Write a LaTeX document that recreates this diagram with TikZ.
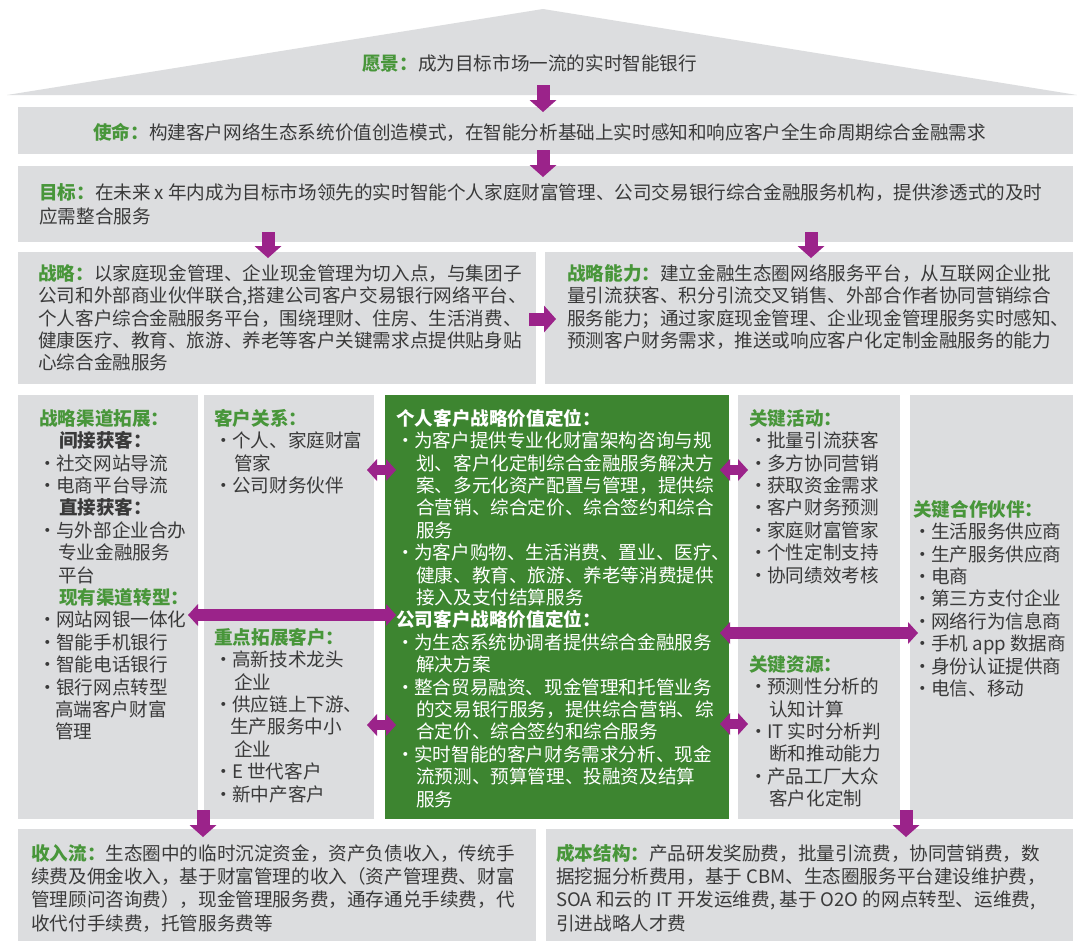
\documentclass[tikz,border=0pt]{standalone}
\usepackage{fontspec}
\setmainfont{Noto Sans CJK SC}
\usetikzlibrary{arrows.meta}
\definecolor{panel}{RGB}{220,221,223}
\definecolor{pur}{RGB}{155,35,138}
\definecolor{tgreen}{RGB}{72,150,58}
\definecolor{vgreen}{RGB}{61,133,48}
\definecolor{txt}{RGB}{58,58,58}
\newcommand\gtitle[1]{{\bfseries\color{tgreen}#1}}
\newcommand\btitle[1]{{\bfseries #1}}
\newcommand\bu{\makebox[10pt][l]{\hspace{2pt}\makebox[0pt][c]{·}}}
\newcommand\fs{\rule{0pt}{17pt}}
\newcommand\bodyfont{\fontsize{18.6}{22.4}\selectfont}
\begin{document}
\begin{tikzpicture}[x=1pt,y=-1pt,
  panelbox/.style={fill=panel, draw=none, inner sep=0pt, outer sep=0pt, rectangle},
  vpbox/.style={fill=vgreen, draw=none, inner sep=0pt, outer sep=0pt, rectangle},
  txtblock/.style={anchor=north west, inner sep=0pt, align=left, text=txt, font=\bodyfont},
  downarr/.style={draw=pur, line width=13pt, -{Triangle[width=27pt,length=12pt,line width=0pt]}},
  longarr/.style={draw=pur, line width=12pt, {Triangle[width=22pt,length=10pt,line width=0pt]}-{Triangle[width=22pt,length=10pt,line width=0pt]}},
  shortarr/.style={draw=pur, line width=10pt, {Triangle[width=22pt,length=10pt,line width=0pt]}-{Triangle[width=22pt,length=10pt,line width=0pt]}}
]
\useasboundingbox (0,0) rectangle (1077,943);
\fill[white] (0,0) rectangle (1077,943);
% roof
\fill[panel] (7,95) -- (543,9) -- (1077,95) -- cycle;
% boxes
\node[panelbox, minimum width=1055pt, minimum height=47pt] (mission) at (545.5,130.5) {};
\node[panelbox, minimum width=1055pt, minimum height=76pt] (goal) at (545.5,204) {};
\node[panelbox, minimum width=518pt, minimum height=132pt] (strat) at (277,318) {};
\node[panelbox, minimum width=528pt, minimum height=132pt] (cap) at (809,318) {};
\node[panelbox, minimum width=180pt, minimum height=424pt] (chan) at (108,607) {};
\node[panelbox, minimum width=170pt, minimum height=424pt] (cr) at (289,607) {};
\node[vpbox, minimum width=344pt, minimum height=424pt] (vp) at (557,607) {};
\node[panelbox, minimum width=162pt, minimum height=424pt] (ka) at (819,607) {};
\node[panelbox, minimum width=163pt, minimum height=424pt] (kp) at (991.5,607) {};
\node[panelbox, minimum width=518pt, minimum height=112pt] (rev) at (277,885) {};
\node[panelbox, minimum width=527pt, minimum height=112pt] (cost) at (809.5,885) {};
% texts
\node[txtblock] (visiontxt) at (362,53) {\fs\gtitle{愿景：}成为目标市场一流的实时智能银行};
\node[txtblock] (missiontxt) at (93,122) {\fs\gtitle{使命：}构建客户网络生态系统价值创造模式，在智能分析基础上实时感知和响应客户全生命周期综合金融需求};
\node[txtblock, font={\fontsize{18.6}{24}\selectfont}] (goaltxt) at (39,182) {\fs\gtitle{目标：}在未来 x 年内成为目标市场领先的实时智能个人家庭财富管理、公司交易银行综合金融服务机构，提供渗透式的及时\\应需整合服务};
\node[txtblock] (strattxt) at (38,263) {\fs\gtitle{战略：}以家庭现金管理、企业现金管理为切入点，与集团子\\
公司和外部商业伙伴联合,搭建公司客户交易银行网络平台、\\
个人客户综合金融服务平台，围绕理财、住房、生活消费、\\
健康医疗、教育、旅游、养老等客户关键需求点提供贴身贴\\
心综合金融服务};
\node[txtblock] (captxt) at (567,263) {\fs\gtitle{战略能力：}建立金融生态圈网络服务平台，从互联网企业批\\
量引流获客、积分引流交叉销售、外部合作者协同营销综合\\
服务能力；通过家庭现金管理、企业现金管理服务实时感知、\\
预测客户财务需求，推送或响应客户化定制金融服务的能力};
\node[txtblock] (chantxt) at (39,408) {\fs\gtitle{战略渠道拓展：}\\
\hspace*{20pt}\btitle{间接获客：}\\
\hspace*{7pt}\bu 社交网站导流\\
\hspace*{7pt}\bu 电商平台导流\\
\hspace*{20pt}\btitle{直接获客：}\\
\hspace*{7pt}\bu 与外部企业合办\\
\hspace*{19pt}专业金融服务\\
\hspace*{19pt}平台\\
\hspace*{20pt}\gtitle{现有渠道转型：}\\
\hspace*{7pt}\bu 网站网银一体化\\
\hspace*{7pt}\bu 智能手机银行\\
\hspace*{7pt}\bu 智能电话银行\\
\hspace*{7pt}\bu 银行网点转型\\
\hspace*{16pt}高端客户财富\\
\hspace*{16pt}管理};
\node[txtblock] (crtxt) at (214,408) {\fs\gtitle{客户关系：}\\
\hspace*{8pt}\bu 个人、家庭财富\\
\hspace*{20pt}管家\\
\hspace*{8pt}\bu 公司财务伙伴};
\node[txtblock] (keycusttxt) at (214,627) {\fs\gtitle{重点拓展客户：}\\
\hspace*{8pt}\bu 高新技术龙头\\
\hspace*{20pt}企业\\
\hspace*{8pt}\bu 供应链上下游、\\
\hspace*{16pt}生产服务中小\\
\hspace*{20pt}企业\\
\hspace*{8pt}\bu E 世代客户\\
\hspace*{8pt}\bu 新中产客户};
\node[txtblock, text=white] (vptxt) at (396,408) {\fs\btitle{个人客户战略价值定位：}\\
\hspace*{8pt}\bu 为客户提供专业化财富架构咨询与规\\
\hspace*{20pt}划、客户化定制综合金融服务解决方\\
\hspace*{20pt}案、多元化资产配置与管理，提供综\\
\hspace*{20pt}合营销、综合定价、综合签约和综合\\
\hspace*{20pt}服务\\
\hspace*{8pt}\bu 为客户购物、生活消费、置业、医疗、\\
\hspace*{20pt}健康、教育、旅游、养老等消费提供\\
\hspace*{20pt}接入及支付结算服务\\
\btitle{公司客户战略价值定位：}\\
\hspace*{8pt}\bu 为生态系统协调者提供综合金融服务\\
\hspace*{20pt}解决方案\\
\hspace*{8pt}\bu 整合贸易融资、现金管理和托管业务\\
\hspace*{20pt}的交易银行服务，提供综合营销、综\\
\hspace*{20pt}合定价、综合签约和综合服务\\
\hspace*{8pt}\bu 实时智能的客户财务需求分析、现金\\
\hspace*{20pt}流预测、预算管理、投融资及结算\\
\hspace*{20pt}服务};
\node[txtblock] (katxt) at (749,408) {\fs\gtitle{关键活动：}\\
\hspace*{8pt}\bu 批量引流获客\\
\hspace*{8pt}\bu 多方协同营销\\
\hspace*{8pt}\bu 获取资金需求\\
\hspace*{8pt}\bu 客户财务预测\\
\hspace*{8pt}\bu 家庭财富管家\\
\hspace*{8pt}\bu 个性定制支持\\
\hspace*{8pt}\bu 协同绩效考核};
\node[txtblock] (krtxt) at (749,654) {\fs\gtitle{关键资源：}\\
\hspace*{8pt}\bu 预测性分析的\\
\hspace*{20pt}认知计算\\
\hspace*{8pt}\bu IT 实时分析判\\
\hspace*{20pt}断和推动能力\\
\hspace*{8pt}\bu 产品工厂大众\\
\hspace*{20pt}客户化定制};
\node[txtblock] (kptxt) at (913,499) {\fs\gtitle{关键合作伙伴：}\\
\hspace*{8pt}\bu 生活服务供应商\\
\hspace*{8pt}\bu 生产服务供应商\\
\hspace*{8pt}\bu 电商\\
\hspace*{8pt}\bu 第三方支付企业\\
\hspace*{8pt}\bu 网络行为信息商\\
\hspace*{8pt}\bu 手机 app 数据商\\
\hspace*{8pt}\bu 身份认证提供商\\
\hspace*{8pt}\bu 电信、移动};
\node[txtblock, font={\fontsize{18.6}{23.3}\selectfont}] (revtxt) at (31,843) {\fs\gtitle{收入流：}生态圈中的临时沉淀资金，资产负债收入，传统手\\
续费及佣金收入，基于财富管理的收入（资产管理费、财富\\
管理顾问咨询费），现金管理服务费，通存通兑手续费，代\\
收代付手续费，托管服务费等};
\node[txtblock, font={\fontsize{18.6}{23.3}\selectfont}] (costtxt) at (556,843) {\fs\gtitle{成本结构：}产品研发奖励费，批量引流费，协同营销费，数\\
据挖掘分析费用，基于 CBM、生态圈服务平台建设维护费，\\
SOA 和云的 IT 开发运维费, 基于 O2O 的网点转型、运维费,\\
引进战略人才费};
% arrow end points
\coordinate (a1s) at (543,85);  \coordinate (a1e) at (543,112);
\coordinate (a2s) at (543,150); \coordinate (a2e) at (543,177);
\coordinate (a3s) at (268,232); \coordinate (a3e) at (268,258);
\coordinate (a4s) at (811,232); \coordinate (a4e) at (811,258);
\coordinate (a5s) at (529,319); \coordinate (a5e) at (556,319);
\coordinate (b1l) at (367,470); \coordinate (b1r) at (396,470);
\coordinate (b2l) at (188,615); \coordinate (b2r) at (396,615);
\coordinate (b3l) at (367,725); \coordinate (b3r) at (396,725);
\coordinate (c1l) at (720,470); \coordinate (c1r) at (748,470);
\coordinate (c2l) at (720,633); \coordinate (c2r) at (918,633);
\coordinate (c3l) at (720,724); \coordinate (c3r) at (748,724);
\coordinate (d1s) at (203,810); \coordinate (d1e) at (203,837);
\coordinate (d2s) at (906,810); \coordinate (d2e) at (906,837);
% arrows
\draw[downarr] (a1s) -- (a1e);
\draw[downarr] (a2s) -- (a2e);
\draw[downarr] (a3s) -- (a3e);
\draw[downarr] (a4s) -- (a4e);
\draw[downarr] (a5s) -- (a5e);
\draw[shortarr] (b1l) -- (b1r);
\draw[longarr] (b2l) -- (b2r);
\draw[shortarr] (b3l) -- (b3r);
\draw[shortarr] (c1l) -- (c1r);
\draw[longarr] (c2l) -- (c2r);
\draw[shortarr] (c3l) -- (c3r);
\draw[downarr] (d1s) -- (d1e);
\draw[downarr] (d2s) -- (d2e);
\end{tikzpicture}
\end{document}
